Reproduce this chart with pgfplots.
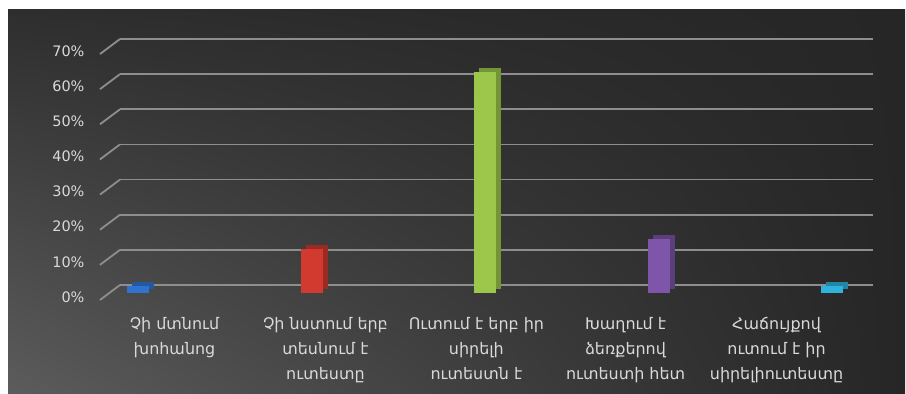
\documentclass[border=0pt]{standalone}
\usepackage{pgfplots}
\pgfplotsset{compat=1.18}
\usetikzlibrary{shadings}
\usepackage{fontspec}
\setmainfont{DejaVu Sans}
\definecolor{gridc}{HTML}{8E8E8E}
\definecolor{txt}{HTML}{D9D9D9}
\definecolor{bgLL}{HTML}{5C5C5C}
\definecolor{bgUL}{HTML}{2E2E2E}
\definecolor{bgLR}{HTML}{262626}
\definecolor{bgUR}{HTML}{262626}
\definecolor{bF}{HTML}{2F72CF}\definecolor{bS}{HTML}{24589F}
\definecolor{rF}{HTML}{D2392F}\definecolor{rS}{HTML}{9A2A22}
\definecolor{gF}{HTML}{9CC74B}\definecolor{gS}{HTML}{739535}
\definecolor{pF}{HTML}{7E55A9}\definecolor{pS}{HTML}{5C3E7C}
\definecolor{cF}{HTML}{2FB3DD}\definecolor{cS}{HTML}{2286A6}
\begin{document}
\begin{tikzpicture}
\useasboundingbox (0,0) rectangle (906bp,394bp);
\fill[white] (0,0) rectangle (906bp,394bp);
\shade[lower left=bgLL, upper left=bgUL, lower right=bgLR, upper right=bgUR]
  (8bp,0) rectangle (905bp,384bp);
\begin{axis}[
  at={(120bp,109bp)}, anchor=south west,
  scale only axis, width=753bp, height=246bp,
  xmin=-0.104, xmax=4.236, ymin=0, ymax=70,
  clip=false,
  axis line style={draw=none},
  major tick length=0pt,
  ymajorgrids, grid style={gridc, line width=1.8bp},
  ytick={0,10,...,70},
  yticklabel={\pgfmathprintnumber{\tick}\%},
  /pgf/number format/assume math mode=true,
  yticklabel style={font=\fontsize{14.5}{16}\selectfont, text=txt, xshift=-32bp, yshift=-12bp},
  xtick={0.21,1.08,1.95,2.81,3.68},
  xticklabels={{Չի մտնում\\խոհանոց},{Չի նստում երբ\\տեսնում է\\ուտեստը},{Ուտում է երբ իր\\սիրելի\\ուտեստն է},{Խաղում է\\ձեռքերով\\ուտեստի հետ},{Հաճույքով\\ուտում է իր\\սիրելիուտեստը}},
  xticklabel style={font=\fontsize{16}{25}\selectfont, text=txt, align=center, anchor=north, yshift=-29bp},
  ybar, bar width=22bp, bar shift=0pt,
]
\pgfplotsinvokeforeach{0,10,...,70}{
  \draw[gridc, line width=1.8bp] ([shift={(-20bp,-15bp)}]axis cs:-0.104,#1) -- (axis cs:-0.104,#1);
}
% side/top faces
\addplot[fill=bS, draw=none, xshift=5bp, yshift=-4bp] coordinates {(0,2)};
\addplot[fill=rS, draw=none, xshift=5bp, yshift=-4bp] coordinates {(1,12.5)};
\addplot[fill=gS, draw=none, xshift=5bp, yshift=-4bp] coordinates {(2,63)};
\addplot[fill=pS, draw=none, xshift=5bp, yshift=-4bp] coordinates {(3,15.5)};
\addplot[fill=cS, draw=none, xshift=5bp, yshift=-4bp] coordinates {(4,2)};
% front faces
\addplot[fill=bF, draw=none, yshift=-8bp] coordinates {(0,2)};
\addplot[fill=rF, draw=none, yshift=-8bp] coordinates {(1,12.5)};
\addplot[fill=gF, draw=none, yshift=-8bp] coordinates {(2,63)};
\addplot[fill=pF, draw=none, yshift=-8bp] coordinates {(3,15.5)};
\addplot[fill=cF, draw=none, yshift=-8bp] coordinates {(4,2)};
\end{axis}
\end{tikzpicture}
\end{document}
